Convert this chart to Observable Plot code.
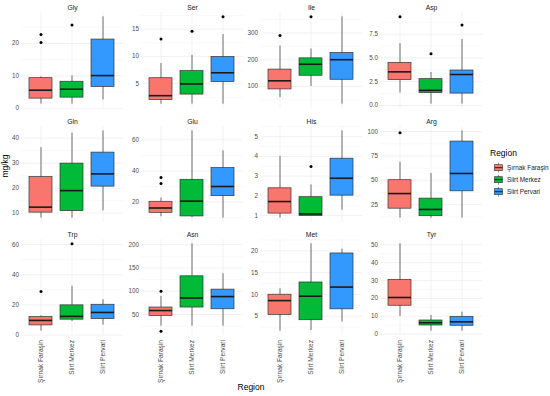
<!DOCTYPE html>
<html><head><meta charset="utf-8">
<script src="https://cdn.jsdelivr.net/npm/d3@7"></script>
<script src="https://cdn.jsdelivr.net/npm/@observablehq/plot@0.6"></script>
<style>
body{margin:0;background:#fff;font-family:"Liberation Sans",Arial,sans-serif;}
#chart{position:relative;width:550px;height:396px;overflow:hidden;background:#fff;}
.abs{position:absolute;}
</style></head><body><div id="chart"></div>
<script>
// Categories
const regions = ["Şırnak Faraşin", "Siirt Merkez", "Siirt Pervari"];
const colors = ["#F8766D", "#00BA38", "#3399FF"];

// Box statistics per region: [lower whisker, Q1, median, Q3, upper whisker]
const gly = [[1.3, 3.0, 5.6, 9.3, 9.7], [1.3, 3.3, 5.9, 8.2, 10.0], [2.6, 6.6, 10.1, 21.2, 28.2]];
const ser = [[1.25, 2.0, 2.8, 6.0, 8.7], [1.25, 3.0, 4.95, 7.3, 10.2], [1.25, 5.3, 7.0, 9.9, 14.0]];
const ile = [[58, 89, 121, 163, 251], [100, 140, 183, 205, 240], [34, 125, 200, 225, 360]];
const asp = [[1.31, 2.67, 3.54, 4.48, 6.52], [0.14, 1.31, 1.59, 2.77, 3.47], [0.14, 1.25, 3.26, 3.68, 6.94]];
const gln = [[8.0, 10.2, 12.4, 24.4, 36.2], [8.0, 10.8, 19.0, 29.8, 42.0], [10.9, 20.6, 25.7, 34.2, 42.9]];
const glu = [[10.6, 13.1, 16.2, 20.2, 22.6], [10.1, 10.8, 20.6, 34.3, 65.7], [9.7, 23.8, 30.0, 41.8, 52.9]];
const his = [[0.87, 1.10, 1.71, 2.38, 4.0], [0.98, 0.98, 1.08, 1.93, 2.55], [1.27, 2.01, 2.89, 3.88, 5.29]];
const arg = [[11.2, 20.9, 36.4, 50.1, 68.7], [11.2, 13.2, 20.1, 31.2, 57.0], [11.2, 38.7, 57.0, 89.7, 100.7]];
const trp = [[2.6, 6.4, 9.7, 11.9, 12.8], [8.9, 10.2, 12.4, 19.7, 32.4], [6.6, 10.6, 15.0, 20.1, 23.4]];
const asn = [[25, 47, 58.5, 65, 89], [25, 65, 85.5, 132, 201.7], [25, 61.3, 88.5, 103.4, 137.6]];
const met = [[1.6, 5.3, 8.6, 9.95, 11.3], [1.75, 4.1, 9.6, 12.75, 21.6], [3.7, 6.6, 11.7, 19.4, 20.4]];
const tyr = [[9.9, 15.9, 20.5, 30.4, 50.5], [1.7, 4.86, 6.4, 7.65, 10.4], [1.7, 4.7, 6.9, 9.7, 12.3]];

// Outliers per region
const glyOut = [[22.8, 20.3], [25.7], []];
const serOut = [[13.2], [14.6], [17.25]];
const ileOut = [[290], [360], []];
const aspOut = [[9.33], [5.45], [8.47]];
const glnOut = [[], [], []];
const gluOut = [[35.8, 31.9], [], []];
const hisOut = [[], [3.48], []];
const argOut = [[98.7], [], []];
const trpOut = [[28.9], [60.5], []];
const asnOut = [[100, 14.3], [], []];
const metOut = [[], [], []];
const tyrOut = [[], [], []];

// Y tick labels per panel
const glyTicks = [0, 10, 20];
const serTicks = [5, 10, 15];
const ileTicks = [100, 200, 300];
const aspTicks = [0, 2.5, 5, 7.5];
const glnTicks = [10, 20, 30, 40];
const gluTicks = [20, 40, 60];
const hisTicks = [1, 2, 3, 4, 5];
const argTicks = [25, 50, 75, 100];
const trpTicks = [0, 20, 40, 60];
const asnTicks = [50, 100, 150, 200];
const metTicks = [5, 10, 15, 20];
const tyrTicks = [0, 10, 20, 30, 40, 50];

const panels = [
  {name: "Gly", stats: gly, out: glyOut, ticks: glyTicks},
  {name: "Ser", stats: ser, out: serOut, ticks: serTicks},
  {name: "Ile", stats: ile, out: ileOut, ticks: ileTicks},
  {name: "Asp", stats: asp, out: aspOut, ticks: aspTicks, fmt: d3.format(".1f")},
  {name: "Gln", stats: gln, out: glnOut, ticks: glnTicks},
  {name: "Glu", stats: glu, out: gluOut, ticks: gluTicks},
  {name: "His", stats: his, out: hisOut, ticks: hisTicks},
  {name: "Arg", stats: arg, out: argOut, ticks: argTicks},
  {name: "Trp", stats: trp, out: trpOut, ticks: trpTicks},
  {name: "Asn", stats: asn, out: asnOut, ticks: asnTicks},
  {name: "Met", stats: met, out: metOut, ticks: metTicks},
  {name: "Tyr", stats: tyr, out: tyrOut, ticks: tyrTicks}
];

const chart = document.getElementById("chart");
const FONT = "'Liberation Sans', Arial, sans-serif";
const PW = 102, PH = 96, ML = 24, MR = 2, MT = 13;
const colLeft = c => 21 + c * 119.7;
const rowTop = r => 12.4 + r * 113.1;

panels.forEach((p, k) => {
  const r = Math.floor(k / 4), c = k % 4;
  const bottom = r === 2;
  const rows = regions.map((reg, i) => ({
    region: reg, lo: p.stats[i][0], q1: p.stats[i][1], med: p.stats[i][2], q3: p.stats[i][3], hi: p.stats[i][4]
  }));
  const outs = p.out.flatMap((vals, i) => vals.map(v => ({region: regions[i], value: v})));
  const all = [...rows.flatMap(d => [d.lo, d.hi]), ...outs.map(d => d.value)];
  const [mn, mx] = d3.extent(all);
  const pad = (mx - mn) * 0.05;
  const domain = [mn - pad, mx + pad];
  const step = p.ticks[1] - p.ticks[0];
  const minor = [p.ticks[0] - step / 2, ...p.ticks.map(t => t + step / 2)]
    .filter(v => v >= domain[0] && v <= domain[1]);
  const MB = bottom ? 52 : 2;
  const svg = Plot.plot({
    width: ML + PW + MR, height: MT + PH + MB,
    marginLeft: ML, marginRight: MR, marginTop: MT, marginBottom: MB,
    style: {fontFamily: FONT, fontSize: "6.3px", color: "#4d4d4d", background: "transparent", overflow: "visible"},
    x: {type: "band", domain: regions, paddingInner: 0.25, paddingOuter: 0.225, axis: null},
    y: {domain, axis: null},
    color: {domain: regions, range: colors},
    marks: [
      Plot.ruleY(minor, {stroke: "#f3f3f3", strokeWidth: 0.5}),
      Plot.ruleY(p.ticks, {stroke: "#ebebeb", strokeWidth: 0.7}),
      Plot.ruleX(regions, {x: d => d, stroke: "#ebebeb", strokeWidth: 0.7}),
      Plot.axisY(p.ticks, {tickSize: 0, tickPadding: 2.5, tickFormat: p.fmt, label: null}),
      bottom ? Plot.axisX({tickRotate: -90, tickSize: 0, tickPadding: 4.5, label: null, fontSize: 6.6}) : null,
      Plot.ruleX(rows, {x: "region", y1: "lo", y2: "hi", stroke: "#4d4d4d", strokeWidth: 0.8}),
      Plot.barY(rows, {x: "region", y1: "q1", y2: "q3", fill: "region", stroke: "#333333", strokeWidth: 0.7}),
      Plot.tickY(rows, {x: "region", y: "med", stroke: "#1a1a1a", strokeWidth: 1.6}),
      Plot.dot(outs, {x: "region", y: "value", r: 1.5, fill: "#000", stroke: "none"}),
      Plot.text([p.name], {frameAnchor: "top", dy: -7.5, fill: "#1a1a1a", fontSize: 6.8})
    ]
  });
  const wrap = document.createElement("div");
  wrap.className = "abs";
  wrap.style.left = (colLeft(c) - ML) + "px";
  wrap.style.top = (rowTop(r) - MT) + "px";
  wrap.style.width = (ML + PW + MR) + "px";
  wrap.appendChild(svg);
  chart.appendChild(wrap);
});

// Axis titles
const xt = document.createElement("div");
xt.className = "abs";
xt.textContent = "Region";
Object.assign(xt.style, {left: "0px", width: "502px", textAlign: "center", top: "382px", fontSize: "8.5px", color: "#000", fontFamily: FONT});
chart.appendChild(xt);

const yt = document.createElement("div");
yt.className = "abs";
yt.textContent = "mg/kg";
Object.assign(yt.style, {left: "-20px", top: "161px", width: "50px", textAlign: "center", fontSize: "8.5px", color: "#000", fontFamily: FONT, transform: "rotate(-90deg)"});
chart.appendChild(yt);

// Legend
const lg = d3.create("svg").attr("width", 62).attr("height", 60)
  .style("position", "absolute").style("left", "488px").style("top", "143px")
  .style("font-family", FONT);
lg.append("text").attr("x", 2).attr("y", 13).attr("font-size", 8.5).attr("fill", "#000").text("Region");
regions.forEach((reg, i) => {
  const cy = 24.7 + i * 12;
  const g = lg.append("g").attr("transform", `translate(6,${cy})`);
  g.append("line").attr("x1", 4.5).attr("x2", 4.5).attr("y1", -5).attr("y2", 5).attr("stroke", "#4d4d4d").attr("stroke-width", 0.6);
  g.append("rect").attr("x", 0.5).attr("y", -3).attr("width", 8).attr("height", 6)
    .attr("fill", colors[i]).attr("stroke", "#333").attr("stroke-width", 0.6);
  g.append("line").attr("x1", 0.5).attr("x2", 8.5).attr("y1", 0).attr("y2", 0).attr("stroke", "#1a1a1a").attr("stroke-width", 1);
  lg.append("text").attr("x", 19).attr("y", cy).attr("dy", "0.35em").attr("font-size", 6.4).attr("fill", "#1a1a1a").text(reg);
});
chart.appendChild(lg.node());
</script>
</body></html>
